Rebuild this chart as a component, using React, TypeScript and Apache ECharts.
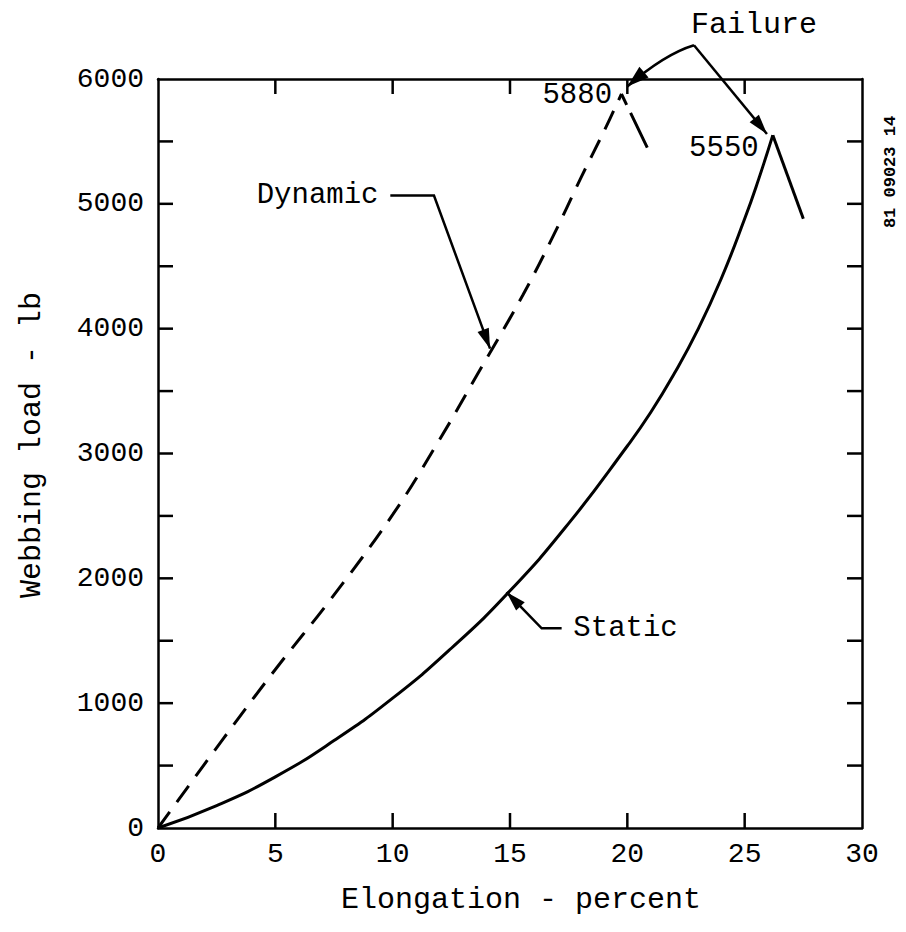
import React, { useEffect, useRef } from "react";
import * as echarts from "echarts";

// ---- data ----
const xTickValues = [0, 5, 10, 15, 20, 25, 30];
const yLabelValues = [0, 1000, 2000, 3000, 4000, 5000, 6000];
const yTickValues = [500, 1000, 1500, 2000, 2500, 3000, 3500, 4000, 4500, 5000, 5500];
const xInnerTicks = [5, 10, 15, 20, 25];

const staticX = [0, 2.5, 5, 7.5, 10, 12.5, 15, 17.5, 20, 21, 22, 23, 24, 25, 25.6, 26.2];
const staticY = [0, 180, 410, 700, 1040, 1440, 1900, 2440, 3060, 3330, 3640, 3990, 4400, 4880, 5200, 5550];
const staticFailX = [26.2, 27.5];
const staticFailY = [5550, 4880];

const dynamicX = [0, 0.5, 2.8, 5, 7.35, 10, 11.9, 13.6, 15.55, 16.9, 18, 19, 19.75];
const dynamicY = [0, 130, 720, 1270, 1830, 2510, 3080, 3630, 4270, 4765, 5200, 5580, 5880];
const dynamicFailX = [19.75, 20.85];
const dynamicFailY = [5880, 5450];

const peakLabels = ["5880", "5550"];

const FONT = "Liberation Mono";
const TICK_LEN = 15;

function pairs(xs: number[], ys: number[]) {
  return xs.map((x, i) => [x, ys[i]]);
}

function arrowHead(tip: number[], from: number[], len = 20, half = 6) {
  const dx = tip[0] - from[0];
  const dy = tip[1] - from[1];
  const l = Math.sqrt(dx * dx + dy * dy) || 1;
  const ux = dx / l, uy = dy / l;
  const bx = tip[0] - ux * len, by = tip[1] - uy * len;
  const nx = -uy, ny = ux;
  return {
    type: "polygon",
    shape: { points: [[tip[0], tip[1]], [bx + nx * half, by + ny * half], [bx - nx * half, by - ny * half]] },
    style: { fill: "#000" },
    silent: true,
  };
}

export default function App() {
  const ref = useRef<HTMLDivElement>(null);
  useEffect(() => {
    document.body.style.margin = "0";
    const chart = echarts.init(ref.current!, null, { renderer: "svg" });
    const mkLine = () => ({ show: true, onZero: false, lineStyle: { color: "#000", width: 2.5 } });
    const option: any = {
      animation: false,
      backgroundColor: "#fff",
      grid: { left: 158, top: 79, right: 44, bottom: 104 },
      xAxis: [
        {
          type: "value", min: 0, max: 30, interval: 5, position: "bottom",
          axisLine: mkLine(), splitLine: { show: false }, axisTick: { show: false },
          axisLabel: { color: "#000", fontFamily: FONT, fontSize: 28, margin: 12,
            formatter: (v: number) => (xTickValues.includes(v) ? String(v) : "") },
        },
        {
          type: "value", min: 0, max: 30, interval: 5, position: "top",
          axisLine: mkLine(), splitLine: { show: false }, axisTick: { show: false },
          axisLabel: { show: false },
        },
      ],
      yAxis: [
        {
          type: "value", min: 0, max: 6000, interval: 500, position: "left",
          axisLine: mkLine(), splitLine: { show: false }, axisTick: { show: false },
          axisLabel: { color: "#000", fontFamily: FONT, fontSize: 28, margin: 14,
            formatter: (v: number) => (yLabelValues.includes(v) ? String(v) : "") },
        },
        {
          type: "value", min: 0, max: 6000, interval: 500, position: "right",
          axisLine: mkLine(), splitLine: { show: false }, axisTick: { show: false },
          axisLabel: { show: false },
        },
      ],
      series: [
        {
          name: "Static", type: "line", data: pairs(staticX, staticY), smooth: 0.5,
          showSymbol: false, lineStyle: { color: "#000", width: 3 }, xAxisIndex: 0, yAxisIndex: 0,
        },
        {
          name: "Static failure", type: "line", data: pairs(staticFailX, staticFailY),
          showSymbol: false, lineStyle: { color: "#000", width: 3 },
        },
        {
          name: "Dynamic", type: "line", data: pairs(dynamicX, dynamicY), smooth: 0.4,
          showSymbol: false, lineStyle: { color: "#000", width: 3, type: [20, 12] },
        },
        {
          name: "Dynamic failure", type: "line", data: pairs(dynamicFailX, dynamicFailY),
          showSymbol: false, lineStyle: { color: "#000", width: 3, type: [12, 9, 60, 10] },
        },
      ],
    };
    chart.setOption(option);

    const P = (d: number[]) => chart.convertToPixel({ xAxisIndex: 0, yAxisIndex: 0 }, d) as number[];
    const txt = (x: number, y: number, text: string, align: string, size = 29, extra: any = {}, weight = "normal") => ({
      type: "text", x, y, silent: true,
      style: { text, fill: "#000", font: `${weight} ${size}px "${FONT}"`, align, verticalAlign: "middle" },
      ...extra,
    });
    const line = (pts: number[][], w = 2.5) => ({
      type: "polyline", shape: { points: pts }, silent: true,
      style: { stroke: "#000", lineWidth: w, fill: null },
    });

    // inward axis ticks on all four sides
    const ticks: any[] = [];
    xInnerTicks.forEach((v) => {
      const b = P([v, 0]);
      const t = P([v, 6000]);
      ticks.push(line([[b[0], b[1]], [b[0], b[1] - TICK_LEN]]));
      ticks.push(line([[t[0], t[1]], [t[0], t[1] + TICK_LEN]]));
    });
    yTickValues.forEach((v) => {
      const l = P([0, v]);
      const r = P([30, v]);
      ticks.push(line([[l[0], l[1]], [l[0] + TICK_LEN, l[1]]]));
      ticks.push(line([[r[0], r[1]], [r[0] - TICK_LEN, r[1]]]));
    });

    // annotation anchors in data coordinates
    const apex = P([22.84, 6270]);
    const failText = P([25.4, 6430]);
    const leftTip = P([20.0, 5940]);
    const leftCtrl = P([21.6, 6200]);
    const rightTip = P([25.95, 5560]);
    const lbl5880 = P([19.35, 5870]);
    const lbl5550 = P([25.6, 5440]);
    const dynText = P([6.8, 5066]);
    const dynStart = P([9.9, 5066]);
    const dynElbow = P([11.76, 5066]);
    const dynTip = P([14.15, 3840]);
    const stText = P([17.7, 1600]);
    const stStart = P([17.2, 1600]);
    const stElbow = P([16.35, 1600]);
    const stTip = P([14.85, 1890]);

    const graphic: any[] = [
      ...ticks,
      txt(failText[0], failText[1], "Failure", "center", 30),
      {
        type: "bezierCurve", silent: true,
        shape: { x1: apex[0], y1: apex[1], x2: leftTip[0], y2: leftTip[1], cpx1: leftCtrl[0], cpy1: leftCtrl[1] },
        style: { stroke: "#000", lineWidth: 2.5, fill: null },
      },
      arrowHead(leftTip, leftCtrl, 22, 7),
      line([apex, rightTip]),
      arrowHead(rightTip, apex, 20, 6),
      txt(lbl5880[0], lbl5880[1], peakLabels[0], "right"),
      txt(lbl5550[0], lbl5550[1], peakLabels[1], "right"),
      txt(dynText[0], dynText[1], "Dynamic", "center"),
      line([dynStart, dynElbow, dynTip]),
      arrowHead(dynTip, dynElbow, 20, 6),
      txt(stText[0], stText[1], "Static", "left"),
      line([stStart, stElbow, stTip]),
      arrowHead(stTip, stElbow, 20, 6),
      // axis titles
      txt(521, 900, "Elongation - percent", "center", 30),
      txt(32, 445, "Webbing load - lb", "center", 30, { rotation: Math.PI / 2 }),
      // document code on right margin
      txt(890, 172, "81 09023 14", "center", 17, { rotation: Math.PI / 2 }, "bold"),
    ];
    chart.setOption({ graphic });
    return () => chart.dispose();
  }, []);
  return <div ref={ref} style={{ width: 906, height: 932 }} />;
}
